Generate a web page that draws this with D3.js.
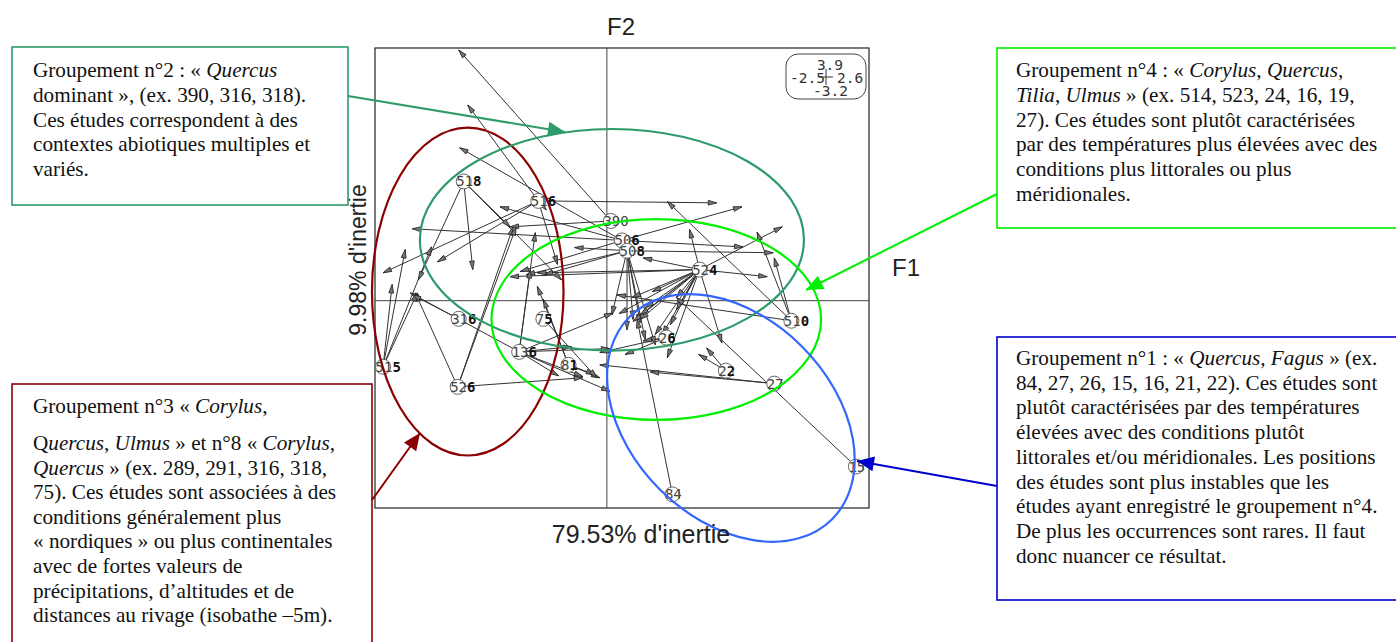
<!DOCTYPE html>
<meta charset="utf-8">
<style>
    html, body { margin: 0; background: #fff; overflow: hidden; }
    svg { display: block; }
    .frame { fill: none; stroke: #222; stroke-width: 1.2; }
    .zero { stroke: #444; stroke-width: 1; }
    .arrow { stroke: #333; stroke-width: 1; fill: none; }
    .head { stroke: #222; stroke-width: .8; fill: #777; }
    .site { stroke: #555; stroke-width: .9; fill: #fff; }
    .sitelabel { font: 14px "DejaVu Sans Mono", monospace; fill: #444; }
    .sitelabel .over { fill: #111; font-weight: bold; }
    .legend { font: 14.5px "DejaVu Sans Mono", monospace; fill: #333; }
    .axlabel { font: 24px "Liberation Sans", sans-serif; fill: #222; }
    .note { font: 21.2px "Liberation Serif", serif; fill: #111; }
</style>
<body>
<script src="https://cdn.jsdelivr.net/npm/d3@7"></script>
<script>

    // F1 / F2 limits, as printed in the small box
    var xLimits = [-2.3, 2.6],
        yLimits = [-3.2, 3.9];

    var legendLabels = {top: "3.9", left: "-2.5", right: "2.6", bottom: "-3.2"};

    var siteNames = ["518", "516", "390", "506", "508", "524", "75", "316", "136", "81", "515", "526", "510", "26", "22", "27", "15", "84"];
    // labels whose last digit was printed twice in the original and came out dark
    var siteDark = [1, 1, 0, 1, 1, 1, 1, 1, 1, 1, 1, 1, 1, 1, 1, 0, 0, 0];
    var siteX = [-1.42, -0.68, 0.04, 0.15, 0.20, 0.92, -0.63, -1.47, -0.87, -0.38, -2.22, -1.48, 1.83, 0.59, 1.18, 1.66, 2.47, 0.65];
    var siteY = [1.84, 1.54, 1.23, 0.93, 0.77, 0.48, -0.28, -0.28, -0.79, -0.99, -1.02, -1.33, -0.31, -0.57, -1.08, -1.28, -2.56, -2.99];

    // displacement arrows: start site, then end point in factor units
    var arrowFrom = [
        "518", "518", "518", "518",
        "516", "516", "516", "516", "516", "516",
        "390", "390",
        "506", "506", "506", "506", "506", "506",
        "508", "508", "508", "508", "508", "508", "508", "508", "508", "508",
        "524", "524", "524", "524", "524", "524", "524", "524", "524", "524", "524", "524", "524", "524", "524", "524", "524", "524", "524", "524",
        "510", "510", "510", "510",
        "136", "136", "136", "136", "136", "136", "136", "136", "136",
        "526", "526", "526", "526",
        "515", "515", "515", "515",
        "316",
        "81", "81", "81", "81",
        "75",
        "22", "22",
        "27", "27",
        "15", "84",
        "26", "26", "26"
    ];
    var arrowX = [
        -1.33, -1.87, -0.96, -0.45,
        -1.68, -2.22, -1.38, -0.49, 1.09, -0.60,
        -1.47, -0.96,
        -1.46, -1.06, -1.93, 1.34, 1.35, -0.86,
        -0.32, 0.20, 0.05, 0.26, 0.33, 1.65, 0.48, 0.38, -0.80, -0.62,
        1.74, 1.59, 0.82, 0.36, -0.96, -0.69, 0.33, 0.45, 0.55, 0.63, 0.69, 0.69, 0.60, 1.14, 0.38, 0.33, 0.48, 0.26, 0.25, 0.12,
        0.60, 1.49, 1.66, 0.10,
        -0.76, -0.71, -0.48, 0.03, -0.24, -0.35, 0.03, 0.06, -1.95,
        -1.90, -0.93, -0.90, -0.24,
        -2.13, -2.00, -1.88, -1.74,
        -1.93,
        -0.69, -0.63, -0.12, -0.07,
        -0.10,
        0.99, 0.91,
        -0.07, 0.43,
        0.69, 0.30,
        0.36, 0.18, -0.07
    ];
    var arrowY = [
        0.48, 0.32, 1.14, 0.32,
        0.60, 0.43, 3.02, 0.56, 1.51, 1.40,
        3.87, 1.14,
        2.36, 1.45, 1.11, 1.45, 0.83, 0.45,
        0.82, -0.45, -0.22, -0.29, -0.34, 0.74, -0.68, -0.60, 0.40, 0.40,
        1.14, 0.37, 1.10, 0.66, 0.37, 0.43, -0.29, 0.14, -0.52, -0.37, 0.05, -0.14, -0.88, -0.65, -0.11, -0.22, -0.52, -0.32, 0.05, -0.20,
        1.53, 1.06, 0.66, 0.09,
        0.48, 1.05, -1.16, -1.40, -1.17, -0.71, -0.74, -0.19, 0.12,
        0.12, 1.14, 1.14, -1.19,
        0.25, 0.79, 0.12, 0.83,
        0.09,
        0.22, 0.02, -1.14, -1.19,
        -1.19,
        -0.73, -0.83,
        -0.99, -1.10,
        0.05, -0.29,
        -0.62, -0.83, -0.80
    ];

    // hand drawn group ellipses, in factor units
    var ellipseNames = ["groupe 3", "groupe 2", "groupe 4", "groupe 1"];
    var ellipseColors = ["#8b0000", "#2e9b6b", "#00f000", "#3366ff"];
    var ellipseCx = [-1.38, 0.05, 0.49, 1.23];
    var ellipseCy = [0.14, 0.94, -0.29, -1.81];
    var ellipseRx = [0.95, 1.905, 1.635, 1.42];
    var ellipseRy = [2.53, 1.71, 1.55, 1.0];
    var ellipseTilt = [0, 0, 0, 45];

    var note2 = [
        "Groupement n°2 : « *Quercus*",
        "dominant », (ex. 390, 316, 318).",
        "Ces études correspondent à des",
        "contextes abiotiques multiples et",
        "variés."
    ];
    var note3a = ["Groupement n°3  « *Corylus*,"];
    var note3b = [
        "Q*uercus*, *Ulmus* »  et n°8 « *Corylus*,",
        "*Quercus* » (ex. 289, 291, 316, 318,",
        "75). Ces études sont associées à des",
        "conditions généralement plus",
        "« nordiques » ou plus continentales",
        "avec de fortes valeurs de",
        "précipitations, d’altitudes et de",
        "distances au rivage (isobathe –5m)."
    ];
    var note4 = [
        "Groupement n°4 : « *Corylus*, *Quercus*,",
        "*Tilia*, *Ulmus* » (ex. 514, 523, 24, 16, 19,",
        "27). Ces études sont plutôt caractérisées",
        "par des températures plus élevées avec des",
        "conditions plus littorales ou plus",
        "méridionales."
    ];
    var note1 = [
        "Groupement n°1 : « *Quercus, Fagus* » (ex.",
        "84, 27, 26, 15, 16, 21, 22). Ces études sont",
        "plutôt caractérisées par des températures",
        "élevées avec des conditions plutôt",
        "littorales et/ou méridionales. Les positions",
        "des études sont plus instables que les",
        "études ayant enregistré le groupement n°4.",
        "De plus les occurrences sont rares. Il faut",
        "donc nuancer ce résultat."
    ];

    var width = 1396, height = 642;

    var x = d3.scaleLinear().domain(xLimits).range([375, 869]);
    var y = d3.scaleLinear().domain(yLimits).range([508, 48]);

    var svg = d3.select("body").append("svg")
            .attr("width", width)
            .attr("height", height);

    svg.append("rect")
            .attr("class", "frame")
            .attr("x", x(xLimits[0]))
            .attr("y", y(yLimits[1]))
            .attr("width", x(xLimits[1]) - x(xLimits[0]))
            .attr("height", y(yLimits[0]) - y(yLimits[1]));

    svg.append("line").attr("class", "zero")
            .attr("x1", x(0)).attr("x2", x(0))
            .attr("y1", y(yLimits[0])).attr("y2", y(yLimits[1]));
    svg.append("line").attr("class", "zero")
            .attr("x1", x(xLimits[0])).attr("x2", x(xLimits[1]))
            .attr("y1", y(0)).attr("y2", y(0));

    // arrows
    var arrows = arrowFrom.map(function(name, i) {
        var s = siteNames.indexOf(name);
        return {x0: x(siteX[s]), y0: y(siteY[s]), x1: x(arrowX[i]), y1: y(arrowY[i])};
    });

    svg.append("g").selectAll("line")
            .data(arrows)
        .enter().append("line")
            .attr("class", "arrow")
            .attr("x1", function(d) { return d.x0; })
            .attr("y1", function(d) { return d.y0; })
            .attr("x2", function(d) { return d.x1; })
            .attr("y2", function(d) { return d.y1; });

    svg.append("g").selectAll("path")
            .data(arrows)
        .enter().append("path")
            .attr("class", "head")
            .attr("d", "M0,0L-8.5,-2.4L-8.5,2.4Z")
            .attr("transform", function(d) {
                var a = Math.atan2(d.y1 - d.y0, d.x1 - d.x0) * 180 / Math.PI;
                return "translate(" + d.x1 + "," + d.y1 + ") rotate(" + a + ")";
            });

    // sites
    var site = svg.append("g").selectAll("g")
            .data(siteNames)
        .enter().append("g")
            .attr("transform", function(d, i) { return "translate(" + x(siteX[i]) + "," + y(siteY[i]) + ")"; });

    site.append("circle").attr("class", "site").attr("r", 7.5);

    var siteText = site.append("text")
            .attr("class", "sitelabel")
            .attr("x", -7.5)
            .attr("y", 5);
    siteText.append("tspan").text(function(d, i) { return siteDark[i] ? d.slice(0, -1) : d; });
    siteText.append("tspan")
            .attr("class", "over")
            .text(function(d, i) { return siteDark[i] ? d.slice(-1) : ""; });

    // limits box
    var lx = x(xLimits[1]) - 83, ly = y(yLimits[1]) + 6;
    svg.append("rect")
            .attr("x", lx).attr("y", ly)
            .attr("width", 80).attr("height", 45)
            .attr("rx", 12)
            .attr("fill", "#fff").attr("stroke", "#444");
    svg.append("path")
            .attr("d", "M" + (lx + 33) + "," + (ly + 23) + "h14M" + (lx + 40) + "," + (ly + 15) + "v16")
            .attr("stroke", "#333").attr("fill", "none");
    var legendText = [
        [legendLabels.top, 44, 16],
        [legendLabels.left, 4, 29],
        [legendLabels.right, 51, 29],
        [legendLabels.bottom, 27, 42]
    ];
    svg.append("g").selectAll("text")
            .data(legendText)
        .enter().append("text")
            .attr("class", "legend")
            .attr("x", function(d) { return lx + d[1]; })
            .attr("y", function(d) { return ly + d[2]; })
            .attr("text-anchor", function(d, i) { return i === 0 ? "middle" : "start"; })
            .text(function(d) { return d[0]; });

    // group ellipses
    svg.append("g").selectAll("ellipse")
            .data(ellipseNames)
        .enter().append("ellipse")
            .attr("fill", "none")
            .attr("stroke-width", 2.2)
            .attr("stroke", function(d, i) { return ellipseColors[i]; })
            .attr("rx", function(d, i) { return x(ellipseRx[i]) - x(0); })
            .attr("ry", function(d, i) { return ellipseTilt[i] ? x(ellipseRy[i]) - x(0) : y(0) - y(ellipseRy[i]); })
            .attr("transform", function(d, i) {
                return "translate(" + x(ellipseCx[i]) + "," + y(ellipseCy[i]) + ") rotate(" + ellipseTilt[i] + ")";
            });

    // axis names
    function axisLabel(t, px, py, rot, size) {
        svg.append("text")
                .attr("class", "axlabel")
                .attr("text-anchor", "middle")
                .style("font-size", size + "px")
                .attr("transform", "translate(" + px + "," + py + ") rotate(" + rot + ")")
                .text(t);
    }
    axisLabel("F2", 621, 35, 0, 24);
    axisLabel("F1", 906, 276, 0, 24);
    axisLabel("79.53% d'inertie", 641, 543, 0, 25);
    axisLabel("9.98% d'inertie", 366, 260, -90, 23);

    // note boxes, *...* is italic
    function writeLines(lines, tx, first, step) {
        svg.append("g").selectAll("text")
                .data(lines)
            .enter().append("text")
                .attr("class", "note")
                .attr("x", tx)
                .attr("y", function(d, i) { return first + i * step; })
                .each(function(d) {
                    var el = d3.select(this);
                    d.split("*").forEach(function(part, i) {
                        el.append("tspan")
                                .attr("font-style", i % 2 ? "italic" : "normal")
                                .text(part);
                    });
                });
    }

    function noteBox(color, bx, by, bw, bh) {
        svg.append("rect")
                .attr("x", bx).attr("y", by)
                .attr("width", bw).attr("height", bh)
                .attr("fill", "#fff")
                .attr("stroke", color)
                .attr("stroke-width", 1.6);
    }

    noteBox("#2e9b6b", 12, 47, 336, 158);
    writeLines(note2, 33, 77, 24.8);
    noteBox("#00f000", 997, 48, 402, 180);
    writeLines(note4, 1016, 77, 24.8);
    noteBox("#0000cc", 997, 337, 402, 263);
    writeLines(note1, 1016, 365, 24.7);
    noteBox("#8b0000", 12, 384, 360, 262);
    writeLines(note3a, 33, 413, 24.8);
    writeLines(note3b, 33, 450, 24.6);

    // pointers from the notes to the ellipses
    function pointer(color, x0, y0, x1, y1) {
        var a = Math.atan2(y1 - y0, x1 - x0) * 180 / Math.PI;
        svg.append("line")
                .attr("x1", x0).attr("y1", y0)
                .attr("x2", x1).attr("y2", y1)
                .attr("stroke", color).attr("stroke-width", 2);
        svg.append("path")
                .attr("d", "M0,0L-17,-7.5L-17,7.5Z")
                .attr("fill", color)
                .attr("transform", "translate(" + x1 + "," + y1 + ") rotate(" + a + ")");
    }
    pointer("#2e9b6b", 348, 96, 565, 132);
    pointer("#00f000", 997, 194, 806, 290);
    pointer("#0000cc", 997, 486, 857, 461);
    pointer("#8b0000", 372, 500, 420, 433);

</script>
